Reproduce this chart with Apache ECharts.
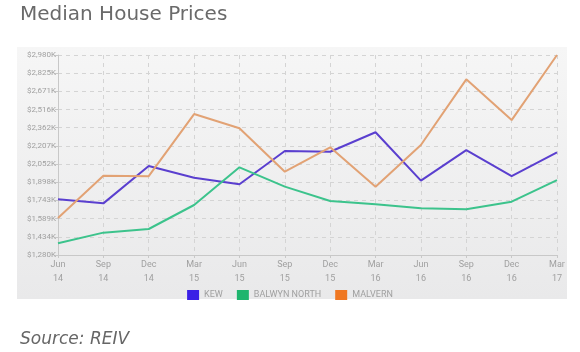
<!DOCTYPE html>
<html>
<head>
<meta charset="utf-8">
<script src="https://cdn.jsdelivr.net/npm/echarts@6/dist/echarts.min.js"></script>
<style>
  html, body { margin: 0; padding: 0; background: #fff; }
  #chart { width: 580px; height: 352px; }
</style>
</head>
<body>
<div id="chart"></div>
<script>
const categories = ['Jun\n14', 'Sep\n14', 'Dec\n14', 'Mar\n15', 'Jun\n15', 'Sep\n15',
  'Dec\n15', 'Mar\n16', 'Jun\n16', 'Sep\n16', 'Dec\n16', 'Mar\n17'];
// values in $K
const kew = [1753, 1719, 2036, 1937, 1881, 2164, 2158, 2323, 1912, 2172, 1951, 2153];
const balwynNorth = [1380, 1470, 1501, 1705, 2025, 1861, 1739, 1711, 1677, 1668, 1733, 1917];
const malvern = [1594, 1954, 1950, 2478, 2357, 1988, 2195, 1861, 2215, 2773, 2427, 2980];
const tickLabels = ['$1,280K', '$1,434K', '$1,589K', '$1,743K', '$1,898K', '$2,052K',
  '$2,207K', '$2,362K', '$2,516K', '$2,671K', '$2,825K', '$2,980K'];
const yMin = 1280;
const yMax = 2980;

const chart = echarts.init(document.getElementById('chart'));

const lineSeries = (name, data, color) => ({
  name: name,
  type: 'line',
  data: data,
  yAxisIndex: 0,
  symbol: 'none',
  lineStyle: { color: color, width: 2 },
  itemStyle: { color: color }
});

chart.setOption({
  backgroundColor: '#ffffff',
  animation: false,
  textStyle: { fontFamily: 'Roboto, sans-serif' },
  graphic: [
    {
      type: 'rect',
      z: -10,
      shape: { x: 17, y: 47, width: 550, height: 252 },
      style: {
        fill: new echarts.graphic.LinearGradient(0, 0, 0, 1, [
          { offset: 0, color: '#f6f6f6' },
          { offset: 1, color: '#e9e9ea' }
        ])
      }
    },
    {
      type: 'text',
      left: 20, top: 5,
      style: { text: 'Median House Prices', fill: '#6a6a6a', fontSize: 20, fontFamily: 'DejaVu Sans, sans-serif' }
    },
    {
      type: 'text',
      left: 20, top: 331,
      style: { text: 'Source: REIV', fill: '#666666', fontSize: 17, fontStyle: 'italic', fontFamily: 'DejaVu Sans, sans-serif' }
    }
  ],
  legend: {
    bottom: 47,
    left: 'center',
    itemWidth: 12,
    itemHeight: 10,
    itemGap: 14,
    icon: 'rect',
    textStyle: { color: '#a0a0a0', fontSize: 9 },
    data: [
      { name: 'KEW', itemStyle: { color: '#3a1fe6' } },
      { name: 'BALWYN NORTH', itemStyle: { color: '#1fb56e' } },
      { name: 'MALVERN', itemStyle: { color: '#f07822' } }
    ]
  },
  grid: { left: 58, right: 23, top: 55, bottom: 97 },
  xAxis: {
    type: 'category',
    boundaryGap: false,
    data: categories,
    axisLine: { lineStyle: { color: '#c8c8c8' } },
    axisTick: { show: true, length: 3, lineStyle: { color: '#c8c8c8' } },
    axisLabel: { color: '#a0a0a0', fontSize: 9, lineHeight: 14, margin: 3 },
    splitLine: { show: true, lineStyle: { color: '#d4d4d4', type: [4, 4] } }
  },
  yAxis: [
    {
      type: 'value',
      min: yMin,
      max: yMax,
      axisLine: { show: false },
      axisTick: { show: false },
      axisLabel: { show: false },
      splitLine: { show: false }
    },
    {
      type: 'value',
      position: 'left',
      min: 0,
      max: tickLabels.length - 1,
      interval: 1,
      axisLine: { show: true, lineStyle: { color: '#c8c8c8' } },
      axisTick: { show: true, length: 3, lineStyle: { color: '#c8c8c8' } },
      axisLabel: {
        color: '#a0a0a0',
        fontSize: 8,
        margin: 2,
        formatter: (v) => tickLabels[Math.round(v)]
      },
      splitLine: { show: true, lineStyle: { color: '#d4d4d4', type: [4, 4] } }
    }
  ],
  series: [
    lineSeries('KEW', kew, '#5a3fcf'),
    lineSeries('BALWYN NORTH', balwynNorth, '#3cc38c'),
    lineSeries('MALVERN', malvern, '#e2a274')
  ]
});
</script>
</body>
</html>
